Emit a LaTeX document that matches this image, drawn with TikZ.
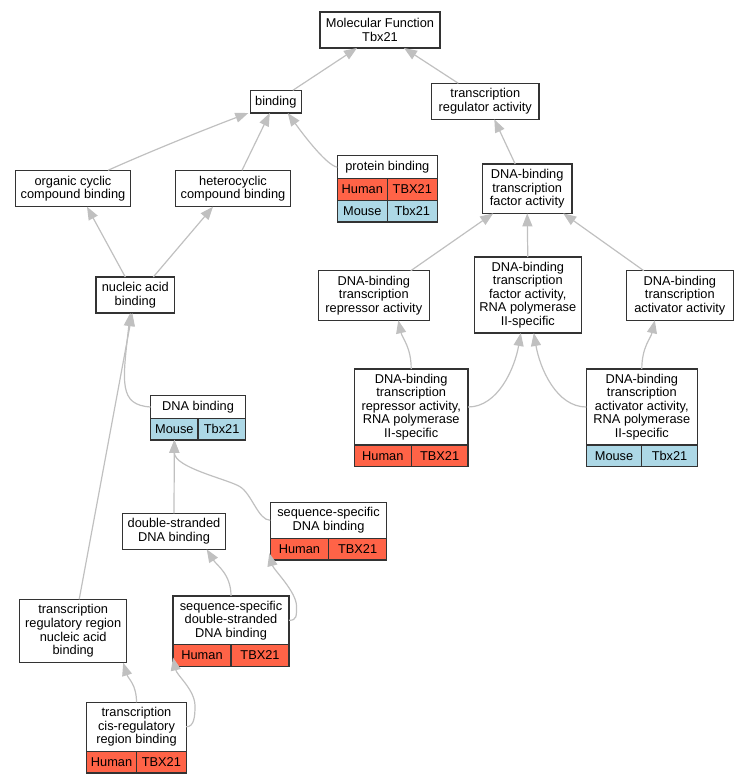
\documentclass[tikz,border=0pt]{standalone}
\usepackage{fontspec}
\setmainfont{Liberation Sans}
\usepackage{tikz}
\usetikzlibrary{arrows.meta}
\usetikzlibrary{positioning}
\usetikzlibrary{calc}

\definecolor{human}{HTML}{FF6347}
\definecolor{mouse}{HTML}{ADD8E6}
\definecolor{isagray}{HTML}{C0C0C0}
\definecolor{boxline}{HTML}{333333}

\tikzset{
  term/.style={draw=boxline, line width=1.3pt, fill=white, inner sep=0pt, outer sep=0pt,
    align=center, font=\fontsize{12.8}{13.6}\selectfont},
  humancell/.style={term, fill=human, minimum height=21.6pt},
  mousecell/.style={term, fill=mouse, minimum height=21.6pt},
  isa/.style={draw=isagray, line width=1.2pt, -{Triangle[length=13pt,width=10pt]}},
}

% species / gene row under a term
\newcommand{\generow}[6]{%
  \node[#3, minimum width=#4, below right=0pt of #1.south west] (#2a) {#5};
  \node[#3, minimum width=#4, right=0pt of #2a] (#2b) {#6};
}

\begin{document}
\begin{tikzpicture}[x=1pt, y=-1pt]
  \useasboundingbox (0,0) rectangle (749,784);

  \node[term, minimum width=120pt, minimum height=36pt] (mf) at (380,30) {Molecular Function\\Tbx21};
  \node[term, minimum width=51pt, minimum height=22.7pt] (bind) at (275.8,101.7) {binding};
  \node[term, minimum width=107.3pt, minimum height=36pt] (trreg) at (485.3,101.3) {transcription\\regulator activity};

  \node[term, minimum width=114.6pt, minimum height=36.4pt] (occb) at (73,188.5) {organic cyclic\\compound binding};
  \node[term, minimum width=114.6pt, minimum height=36.4pt] (hccb) at (233,188.5) {heterocyclic\\compound binding};
  \node[term, minimum width=100pt, minimum height=23pt] (pb) at (387.3,167.2) {protein binding};
  \generow{pb}{pbh}{humancell}{50pt}{Human}{TBX21}
  \generow{pbha}{pbm}{mousecell}{50pt}{Mouse}{Tbx21}
  \node[term, minimum width=89.7pt, minimum height=49.3pt] (dtfa) at (527.2,188.7) {DNA-binding\\transcription\\factor activity};

  \node[term, minimum width=111pt, minimum height=49.6pt] (drep) at (373.8,295.5) {DNA-binding\\transcription\\repressor activity};
  \node[term, minimum width=107pt, minimum height=76pt] (dtf2) at (527.8,295) {DNA-binding\\transcription\\factor activity,\\RNA polymerase\\II-specific};
  \node[term, minimum width=107pt, minimum height=49.6pt] (dact) at (679.8,295.5) {DNA-binding\\transcription\\activator activity};
  \node[term, minimum width=78.7pt, minimum height=36pt] (nab) at (135.3,295) {nucleic acid\\binding};

  \node[term, minimum width=113.7pt, minimum height=76pt] (drep2) at (411.2,407) {DNA-binding\\transcription\\repressor activity,\\RNA polymerase\\II-specific};
  \generow{drep2}{drep2h}{humancell}{56.85pt}{Human}{TBX21}
  \node[term, minimum width=111pt, minimum height=76pt] (dact2) at (641.8,407) {DNA-binding\\transcription\\activator activity,\\RNA polymerase\\II-specific};
  \generow{dact2}{dact2m}{mousecell}{55.5pt}{Mouse}{Tbx21}
  \node[term, minimum width=94.6pt, minimum height=22.6pt] (dnab) at (198,407) {DNA binding};
  \generow{dnab}{dnabm}{mousecell}{47.3pt}{Mouse}{Tbx21}

  \node[term, minimum width=102.6pt, minimum height=36pt] (dsdb) at (174,531.3) {double-stranded\\DNA binding};
  \node[term, minimum width=116.4pt, minimum height=36pt] (ssdb) at (328.5,520.3) {sequence-specific\\DNA binding};
  \generow{ssdb}{ssdbh}{humancell}{58.2pt}{Human}{TBX21}
  \node[term, minimum width=107pt, minimum height=63.4pt] (trrna) at (73.2,631) {transcription\\regulatory region\\nucleic acid\\binding};
  \node[term, minimum width=116pt, minimum height=48.7pt] (ssds) at (231,620.3) {sequence-specific\\double-stranded\\DNA binding};
  \generow{ssds}{ssdsh}{humancell}{58pt}{Human}{TBX21}
  \node[term, minimum width=99.6pt, minimum height=49pt] (cis) at (136.5,726.8) {transcription\\cis-regulatory\\region binding};
  \generow{cis}{cish}{humancell}{49.8pt}{Human}{TBX21}

  % to Molecular Function
  \draw[isa] ($(bind.north)+(17,0)$) -- ($(mf.south)+(-23,0)$);
  \draw[isa] ($(trreg.north)+(-27,0)$) -- ($(mf.south)+(24,0)$);
  % to binding
  \draw[isa] ($(occb.north)+(35,0)$) .. controls +(40,-18) and +(-40,15) .. ($(bind.south west)+(-2,0)$);
  \draw[isa] ($(hccb.north)+(9,0)$) -- ($(bind.south)+(-6,0)$);
  \draw[isa] (pb.west) .. controls +(-12,-2) and +(10,14) .. ($(bind.south)+(12,0)$);
  % transcription factor branch
  \draw[isa] ($(dtfa.north)+(-12,0)$) -- ($(trreg.south)+(9,0)$);
  \draw[isa] ($(drep.north)+(37,0)$) -- ($(dtfa.south)+(-34,0)$);
  \draw[isa] (dtf2.north) -- (dtfa.south);
  \draw[isa] ($(dact.north)+(-36,0)$) -- ($(dtfa.south)+(36,0)$);
  \draw[isa] (drep2.north) .. controls +(0,-22) and +(4,18) .. ($(drep.south)+(24.5,0)$);
  \draw[isa] (drep2.east) .. controls +(30,0) and +(-6,35) .. ($(dtf2.south)+(-7,0)$);
  \draw[isa] (dact2.west) .. controls +(-30,0) and +(6,35) .. ($(dtf2.south)+(6,0)$);
  \draw[isa] (dact2.north) .. controls +(0,-22) and +(-4,18) .. ($(dact.south)+(-25,0)$);
  % nucleic acid branch
  \draw[isa] ($(nab.north)+(-10,0)$) -- ($(occb.south)+(14,0)$);
  \draw[isa] ($(nab.north)+(18,0)$) -- ($(hccb.south)+(-20,0)$);
  \draw[isa] (dnab.west) .. controls +(-32,-2) and +(-8,70) .. ($(nab.south)+(-5,0)$);
  \draw[isa] ($(trrna.north)+(6,0)$) -- ($(nab.south)+(-3,0)$);
  \draw[isa] (dsdb.north) -- (dnabma.south);
  \draw[isa] (ssdb.west) .. controls +(-12,0) and +(12,7.5) .. (240,486.7)
    .. controls +(-12,-7.5) and +(0,28) .. (dnabma.south);
  \draw[isa] (ssds.north) .. controls +(0,-22) and +(10,16) .. ($(dsdb.south)+(32.7,0)$);
  \draw[isa] (ssds.east) .. controls +(8,0) and +(0,10) .. (296.5,606)
    .. controls +(0,-14) and +(4,16) .. ($(ssdbha.west)+(-1,4)$);
  \draw[isa] (cis.north) .. controls +(0,-18) and +(5,16) .. ($(trrna.south)+(50,0)$);
  \draw[isa] (cis.east) .. controls +(8,0) and +(0,10) .. (195,706)
    .. controls +(0,-16) and +(4,18) .. ($(ssdsha.west)+(0,2)$);
\end{tikzpicture}
\end{document}
